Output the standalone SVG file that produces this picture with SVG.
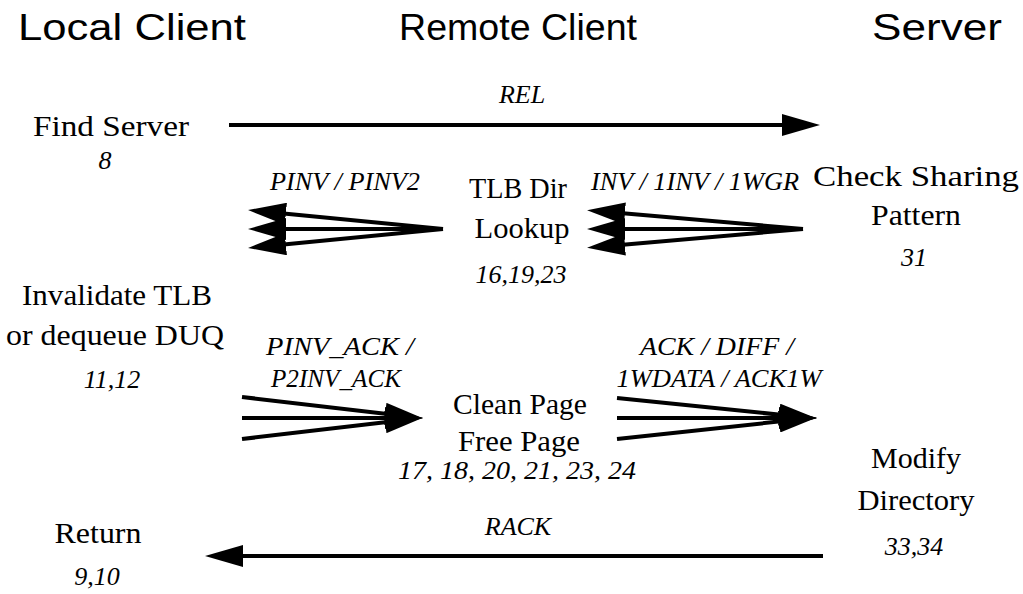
<svg xmlns="http://www.w3.org/2000/svg" width="1023" height="594" viewBox="0 0 1023 594">
<style>
.h{font-family:"Liberation Sans",Arial,sans-serif;font-size:36px;fill:#000;text-anchor:middle}
.t{font-family:"Liberation Serif","Times New Roman",serif;font-size:30px;fill:#000;text-anchor:middle}
.i{font-family:"Liberation Serif","Times New Roman",serif;font-size:26px;font-style:italic;fill:#000;text-anchor:middle}
.c line{stroke:#000;stroke-width:4;marker-end:url(#ah)}
</style>
<defs>
<marker id="ah" markerUnits="userSpaceOnUse" viewBox="0 0 38 22" refX="28" refY="11" markerWidth="38" markerHeight="22" orient="auto">
<path d="M0,0 L38,11 L0,22 z" fill="#000"/>
</marker>
</defs>
<rect width="1023" height="594" fill="#fff"/>
<g id="headers">
<text class="h" x="132" y="40" textLength="228" lengthAdjust="spacingAndGlyphs">Local Client</text>
<text class="h" x="518" y="40" textLength="238" lengthAdjust="spacingAndGlyphs">Remote Client</text>
<text class="h" x="937" y="40" textLength="130" lengthAdjust="spacingAndGlyphs">Server</text>
</g>
<g id="find-server">
<text class="t" x="111" y="136" textLength="156" lengthAdjust="spacingAndGlyphs">Find Server</text>
<text class="i" x="105" y="169">8</text>
</g>
<g id="tlb-dir-lookup">
<text class="t" x="518" y="198" textLength="98" lengthAdjust="spacingAndGlyphs">TLB Dir</text>
<text class="t" x="522" y="238" textLength="95" lengthAdjust="spacingAndGlyphs">Lookup</text>
<text class="i" x="521" y="283">16,19,23</text>
</g>
<g id="check-sharing">
<text class="t" x="916" y="186" textLength="206" lengthAdjust="spacingAndGlyphs">Check Sharing</text>
<text class="t" x="916" y="225" textLength="90" lengthAdjust="spacingAndGlyphs">Pattern</text>
<text class="i" x="914" y="266">31</text>
</g>
<g id="invalidate-tlb">
<text class="t" x="117" y="305" textLength="190" lengthAdjust="spacingAndGlyphs">Invalidate TLB</text>
<text class="t" x="115" y="345" textLength="218" lengthAdjust="spacingAndGlyphs">or dequeue DUQ</text>
<text class="i" x="112" y="388">11,12</text>
</g>
<g id="clean-page">
<text class="t" x="520" y="414" textLength="134" lengthAdjust="spacingAndGlyphs">Clean Page</text>
<text class="t" x="519" y="451" textLength="122" lengthAdjust="spacingAndGlyphs">Free Page</text>
<text class="i" x="517" y="479" textLength="238" lengthAdjust="spacingAndGlyphs">17, 18, 20, 21, 23, 24</text>
</g>
<g id="modify-directory">
<text class="t" x="916" y="468">Modify</text>
<text class="t" x="916" y="510" textLength="117" lengthAdjust="spacingAndGlyphs">Directory</text>
<text class="i" x="914" y="555">33,34</text>
</g>
<g id="return">
<text class="t" x="98" y="543" textLength="87" lengthAdjust="spacingAndGlyphs">Return</text>
<text class="i" x="97" y="585">9,10</text>
</g>
<g id="connectors" class="c">
<line x1="229" y1="125" x2="810" y2="125"/>
<line x1="443" y1="229" x2="258" y2="211"/>
<line x1="443" y1="229" x2="258" y2="229"/>
<line x1="443" y1="229" x2="258" y2="247"/>
<line x1="803" y1="229" x2="597" y2="211"/>
<line x1="803" y1="229" x2="597" y2="229"/>
<line x1="803" y1="229" x2="597" y2="247"/>
<line x1="242" y1="397" x2="413" y2="417"/>
<line x1="242" y1="418" x2="413" y2="418"/>
<line x1="242" y1="439" x2="413" y2="419"/>
<line x1="617" y1="398" x2="807" y2="417.5"/>
<line x1="617" y1="418" x2="807" y2="418"/>
<line x1="617" y1="439" x2="807" y2="418.5"/>
<line x1="823" y1="556" x2="215" y2="556"/>
</g>
<g id="connector-labels">
<text class="i" x="522" y="103">REL</text>
<text class="i" x="345" y="190" textLength="150" lengthAdjust="spacingAndGlyphs">PINV / PINV2</text>
<text class="i" x="695" y="190" textLength="208" lengthAdjust="spacingAndGlyphs">INV / 1INV / 1WGR</text>
<text class="i" x="340" y="355" textLength="148" lengthAdjust="spacingAndGlyphs">PINV_ACK /</text>
<text class="i" x="336" y="387" textLength="130" lengthAdjust="spacingAndGlyphs">P2INV_ACK</text>
<text class="i" x="717" y="355" textLength="154" lengthAdjust="spacingAndGlyphs">ACK / DIFF /</text>
<text class="i" x="719" y="387" textLength="205" lengthAdjust="spacingAndGlyphs">1WDATA / ACK1W</text>
<text class="i" x="518" y="535">RACK</text>
</g>
</svg>
